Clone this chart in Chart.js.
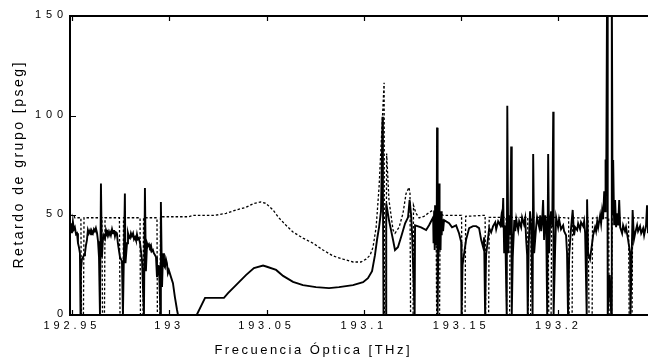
<!DOCTYPE html>
<html>
<head>
<meta charset="utf-8">
<script src="https://cdn.jsdelivr.net/npm/chart.js@4/dist/chart.umd.min.js"></script>
<style>
  html, body { margin: 0; padding: 0; background: #fff; }
  #wrap { width: 648px; height: 364px; }
</style>
</head>
<body>
<div id="wrap"><canvas id="c" width="648" height="364"></canvas></div>
<script>
// Measured group delay (solid trace): frequency [THz] and delay [ps]
const freqMeasured = [
  192.9490, 192.9495, 192.9500, 192.9505, 192.9510, 192.9515, 192.9521, 192.9526, 192.9531, 192.9536,
  192.9541, 192.9544, 192.9546, 192.9551, 192.9562, 192.9567, 192.9572, 192.9577, 192.9582, 192.9587,
  192.9593, 192.9598, 192.9603, 192.9608, 192.9613, 192.9618, 192.9623, 192.9629, 192.9634, 192.9639,
  192.9644, 192.9649, 192.9654, 192.9659, 192.9664, 192.9670, 192.9675, 192.9680, 192.9685, 192.9690,
  192.9695, 192.9700, 192.9706, 192.9711, 192.9716, 192.9721, 192.9726, 192.9731, 192.9736, 192.9742,
  192.9747, 192.9757, 192.9762, 192.9772, 192.9775, 192.9783, 192.9788, 192.9793, 192.9798, 192.9803,
  192.9808, 192.9814, 192.9819, 192.9824, 192.9829, 192.9834, 192.9839, 192.9844, 192.9850, 192.9860,
  192.9870, 192.9875, 192.9880, 192.9886, 192.9891, 192.9896, 192.9901, 192.9906, 192.9911, 192.9916,
  192.9921, 192.9927, 192.9932, 192.9937, 192.9947, 192.9955, 192.9957, 192.9963, 192.9968, 192.9973,
  192.9978, 192.9983, 192.9988, 192.9993, 192.9998, 193.0009, 193.0019, 193.0029, 193.0040, 193.0045,
  193.0141, 193.0184, 193.0281, 193.0302, 193.0343, 193.0394, 193.0435, 193.0482, 193.0502, 193.0549,
  193.0585, 193.0636, 193.0687, 193.0754, 193.0821, 193.0872, 193.0944, 193.0996, 193.1021, 193.1042,
  193.1057, 193.1068, 193.1078, 193.1088, 193.1096, 193.1098, 193.1101, 193.1114, 193.1115, 193.1129,
  193.1150, 193.1160, 193.1175, 193.1191, 193.1212, 193.1227, 193.1235, 193.1243, 193.1248, 193.1261,
  193.1263, 193.1294, 193.1320, 193.1335, 193.1356, 193.1358, 193.1361, 193.1364, 193.1366, 193.1369,
  193.1371, 193.1374, 193.1376, 193.1379, 193.1382, 193.1384, 193.1387, 193.1389, 193.1392, 193.1394,
  193.1397, 193.1400, 193.1402, 193.1407, 193.1412, 193.1438, 193.1453, 193.1474, 193.1489, 193.1500,
  193.1502, 193.1507, 193.1525, 193.1541, 193.1561, 193.1577, 193.1592, 193.1603, 193.1613, 193.1618,
  193.1623, 193.1628, 193.1644, 193.1654, 193.1664, 193.1675, 193.1680, 193.1690, 193.1701, 193.1706,
  193.1711, 193.1716, 193.1721, 193.1726, 193.1734, 193.1737, 193.1742, 193.1747, 193.1752, 193.1757,
  193.1760, 193.1765, 193.1773, 193.1778, 193.1783, 193.1793, 193.1798, 193.1808, 193.1813, 193.1823,
  193.1829, 193.1834, 193.1839, 193.1842, 193.1847, 193.1854, 193.1860, 193.1867, 193.1870, 193.1875,
  193.1885, 193.1890, 193.1901, 193.1906, 193.1911, 193.1916, 193.1921, 193.1926, 193.1932, 193.1937,
  193.1942, 193.1947, 193.1952, 193.1957, 193.1962, 193.1968, 193.1973, 193.1975, 193.1983, 193.1988,
  193.1998, 193.2003, 193.2013, 193.2024, 193.2029, 193.2039, 193.2044, 193.2049, 193.2055, 193.2065,
  193.2073, 193.2080, 193.2086, 193.2096, 193.2101, 193.2111, 193.2116, 193.2127, 193.2132, 193.2137,
  193.2145, 193.2147, 193.2152, 193.2162, 193.2173, 193.2178, 193.2188, 193.2193, 193.2199, 193.2204,
  193.2214, 193.2219, 193.2224, 193.2229, 193.2235, 193.2240, 193.2242, 193.2245, 193.2250, 193.2253,
  193.2263, 193.2271, 193.2274, 193.2278, 193.2281, 193.2286, 193.2291, 193.2296, 193.2301, 193.2307,
  193.2312, 193.2317, 193.2327, 193.2332, 193.2342, 193.2347, 193.2358, 193.2368, 193.2370, 193.2381,
  193.2388, 193.2394, 193.2404, 193.2409, 193.2419, 193.2425, 193.2435, 193.2440, 193.2450, 193.2455,
  193.2460
];
const delayMeasured = [
  44, 46, 41, 46.7, 43, 44, 40.5, 41, 36, 34,
  31, 0, 22, 28, 30, 31, 35, 37.6, 42.6, 41,
  42.5, 40.5, 42, 41, 43, 42, 43.6, 41, 37, 29,
  0, 66, 29, 37.6, 40, 38.5, 42.6, 41, 42, 40,
  41.6, 40, 43, 41, 42.6, 39.5, 41.5, 41, 36, 32,
  29, 27, 0, 61, 26, 36, 41, 39, 38.5, 41,
  39.5, 41, 38, 39, 37.5, 40.5, 38, 38.5, 36, 27.6,
  0, 63.7, 22, 36, 34.5, 35.5, 34, 35, 32, 32.6,
  31, 30, 29, 19, 25, 0, 56.7, 14, 31, 25,
  24, 28, 26, 21, 22.5, 19, 16, 9, 2.5, 0,
  0, 8.6, 8.6, 11, 15, 20, 23.5, 24.8, 24.2, 22.6,
  19.6, 16.6, 15, 14, 13.5, 14, 15, 16.5, 18.5, 22,
  30, 38, 44, 52, 99.5, 60, 0, 0, 56, 47.6,
  37.6, 32.6, 34, 39, 46, 49, 57.7, 50, 40, 0,
  45, 44, 42.6, 45, 49, 36, 52, 32.6, 55, 38,
  50, 35, 94, 0, 30, 52, 66, 34, 50, 32.6,
  52, 40, 48, 42, 47.6, 46, 44, 45, 41, 36.6,
  0, 25, 37.6, 43.6, 44.6, 44.6, 43.6, 37.6, 34, 39,
  0, 30, 43.6, 41.5, 44.6, 46.5, 43, 47, 45, 49,
  44, 58.7, 31, 45, 0, 105, 31, 50, 40, 84.5,
  0, 29, 47.6, 42, 48, 42.6, 47, 44, 49, 45.5,
  48.5, 37.6, 30, 0, 35, 52, 44, 0, 80.8, 31,
  44, 49, 44, 50, 42, 47, 57.7, 37.6, 50, 45,
  0, 80.8, 31, 46, 52, 44, 102, 0, 34, 49,
  44, 48, 43, 45, 42, 40, 31, 0, 30, 44,
  52.7, 40, 44, 42.6, 46, 43, 46.5, 44.5, 47, 41,
  0, 58, 31, 28, 36, 40, 44, 42, 47, 44,
  50, 46, 52, 48, 62, 52, 78, 60, 170, 0,
  20, 0, 170, 50, 77.7, 45, 57.7, 44, 51, 45,
  57.7, 44, 41, 45, 42, 44, 37.6, 31, 0, 52.7,
  38, 41, 45, 42, 44.5, 41, 43.5, 40, 45, 55,
  41
];

// Simulated group delay (dotted trace): frequency [THz] and delay [ps]
const freqSimulated = [
  192.9490, 192.9510, 192.9515, 192.9546, 192.9549, 192.9559, 192.9562, 192.9654, 192.9657, 192.9667,
  192.9670, 192.9744, 192.9747, 192.9762, 192.9765, 192.9850, 192.9852, 192.9865, 192.9868, 192.9937,
  192.9939, 192.9952, 192.9955, 193.0101, 193.0122, 193.0235, 193.0292, 193.0343, 193.0394, 193.0435,
  193.0471, 193.0497, 193.0533, 193.0564, 193.0600, 193.0636, 193.0687, 193.0739, 193.0790, 193.0842,
  193.0893, 193.0944, 193.0985, 193.1011, 193.1032, 193.1047, 193.1063, 193.1078, 193.1093, 193.1104,
  193.1106, 193.1114, 193.1117, 193.1129, 193.1150, 193.1160, 193.1181, 193.1201, 193.1217, 193.1232,
  193.1237, 193.1240, 193.1253, 193.1255, 193.1268, 193.1284, 193.1309, 193.1330, 193.1356, 193.1371,
  193.1374, 193.1389, 193.1392, 193.1407, 193.1502, 193.1505, 193.1520, 193.1523, 193.1623, 193.1626,
  193.1641, 193.1644, 193.1731, 193.1734, 193.1749, 193.1752, 193.1842, 193.1844, 193.1857, 193.1860,
  193.1947, 193.1950, 193.1962, 193.1965, 193.2052, 193.2055, 193.2070, 193.2073, 193.2152, 193.2157,
  193.2173, 193.2175, 193.2258, 193.2260, 193.2273, 193.2276, 193.2360, 193.2363, 193.2378, 193.2381,
  193.2460
];
const delaySimulated = [
  50, 50, 48.8, 48.8, 0, 0, 48.8, 48.8, 0, 0,
  48.8, 48.8, 0, 0, 48.8, 48.8, 0, 0, 48.8, 48.8,
  0, 0, 49.3, 49.3, 50, 50, 51, 52.7, 54, 56,
  56.7, 56, 52.7, 48.7, 45, 41.6, 38.6, 36, 32.6, 29.6,
  28, 26.6, 26.6, 28, 30, 34, 44, 64, 94, 116.5,
  0, 0, 81, 57.7, 42.6, 41, 44, 51, 61, 64,
  61, 0, 0, 55, 51, 48.7, 49.5, 51, 52.7, 51,
  0, 0, 51, 50, 50, 0, 0, 49.5, 50, 0,
  0, 49, 49, 0, 0, 49, 49, 0, 0, 49,
  49, 0, 0, 49, 48.7, 0, 0, 48.7, 48.7, 0,
  0, 48.7, 48.7, 0, 0, 48.7, 48.7, 0, 0, 48.7,
  48.7
];

const xTickValues = [192.95, 193, 193.05, 193.1, 193.15, 193.2];
const xTickLabels = ['192.95', '193', '193.05', '193.1', '193.15', '193.2'];
const yTickValues = [0, 50, 100, 150];
const yTickLabels = ['0', '50', '100', '150'];
const xTitle = 'Frecuencia Óptica [THz]';
const yTitle = 'Retardo de grupo [pseg]';

const FONT = '"Liberation Sans", Arial, sans-serif';

const toPoints = (xs, ys) => xs.map((x, i) => ({ x: x, y: ys[i] }));

// Writes text one glyph at a time with a fixed gap between glyphs (tracked lettering)
function drawTracked(ctx, text, x, y, align, gap) {
  const chars = Array.from(text);
  const widths = chars.map(ch => ctx.measureText(ch).width);
  const total = widths.reduce((s, w) => s + w, 0) + gap * (chars.length - 1);
  let cx = align === 'center' ? x - total / 2 : (align === 'right' ? x - total : x);
  ctx.textAlign = 'left';
  chars.forEach((ch, i) => {
    ctx.fillText(ch, cx, y);
    cx += widths[i] + gap;
  });
}

// Frame, inward tick marks, tick labels and axis titles
const framePlugin = {
  id: 'frame',
  afterDraw(chart) {
    const { ctx, chartArea: a, scales: { x, y } } = chart;
    ctx.save();
    ctx.letterSpacing = '0px';
    ctx.strokeStyle = '#000';
    ctx.lineWidth = 2;
    ctx.beginPath();
    ctx.moveTo(a.left - 1, a.top); ctx.lineTo(a.right + 2, a.top);
    ctx.moveTo(a.left, a.top - 1); ctx.lineTo(a.left, a.bottom + 1);
    ctx.moveTo(a.left - 1, a.bottom); ctx.lineTo(a.right + 2, a.bottom);
    ctx.stroke();

    ctx.lineWidth = 1.2;
    ctx.beginPath();
    xTickValues.forEach(v => {
      const px = Math.round(x.getPixelForValue(v)) + 0.5;
      ctx.moveTo(px, a.bottom); ctx.lineTo(px, a.bottom - 5);
      ctx.moveTo(px, a.top); ctx.lineTo(px, a.top + 5);
    });
    yTickValues.forEach(v => {
      const py = Math.round(y.getPixelForValue(v)) + 0.5;
      ctx.moveTo(a.left, py); ctx.lineTo(a.left + 6, py);
    });
    ctx.stroke();

    ctx.fillStyle = '#000';
    ctx.font = '11px ' + FONT;
    ctx.textBaseline = 'alphabetic';
    xTickValues.forEach((v, i) => {
      drawTracked(ctx, xTickLabels[i], x.getPixelForValue(v) - 2, a.bottom + 13.5, 'center', 3.8);
    });
    ctx.textBaseline = 'middle';
    yTickValues.forEach((v, i) => {
      drawTracked(ctx, yTickLabels[i], a.left - 7, y.getPixelForValue(v) - 1, 'right', 4.8);
    });

    ctx.font = '13px ' + FONT;
    ctx.textBaseline = 'middle';
    drawTracked(ctx, xTitle, a.left + 242, 350, 'center', 2.5);

    ctx.translate(19, (a.top + a.bottom) / 2);
    ctx.rotate(-Math.PI / 2);
    ctx.font = '14px ' + FONT;
    drawTracked(ctx, yTitle, 0, 0, 'center', 2.5);
    ctx.restore();
  }
};

new Chart(document.getElementById('c'), {
  type: 'line',
  data: {
    datasets: [
      {
        label: 'Medido',
        data: toPoints(freqMeasured, delayMeasured),
        borderColor: '#000',
        borderWidth: 1.9,
        pointRadius: 0,
        tension: 0,
        clip: 0,
        order: 1
      },
      {
        label: 'Simulado',
        data: toPoints(freqSimulated, delaySimulated),
        borderColor: '#000',
        borderWidth: 1.3,
        borderDash: [2.5, 2],
        pointRadius: 0,
        tension: 0,
        clip: 0,
        order: 2
      }
    ]
  },
  options: {
    responsive: false,
    animation: false,
    devicePixelRatio: 1,
    layout: { padding: { top: 16, right: 0, bottom: 0, left: 0 } },
    plugins: { legend: { display: false }, tooltip: { enabled: false } },
    scales: {
      x: {
        type: 'linear',
        min: 192.949,
        max: 193.246,
        grid: { display: false },
        border: { display: false },
        afterFit(scale) { scale.height = 49; },
        afterBuildTicks(scale) { scale.ticks = xTickValues.map(v => ({ value: v })); },
        ticks: { display: false }
      },
      y: {
        type: 'linear',
        min: 0,
        max: 150,
        grid: { display: false },
        border: { display: false },
        afterFit(scale) { scale.width = 70; },
        afterBuildTicks(scale) { scale.ticks = yTickValues.map(v => ({ value: v })); },
        ticks: { display: false }
      }
    }
  },
  plugins: [framePlugin]
});
</script>
</body>
</html>
